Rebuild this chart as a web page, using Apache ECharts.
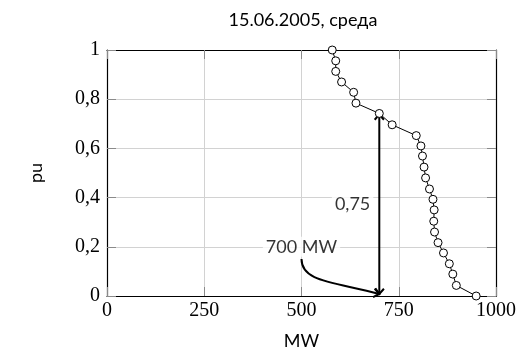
<!DOCTYPE html>
<html>
<head>
<meta charset="utf-8">
<script src="https://cdn.jsdelivr.net/npm/echarts@6/dist/echarts.min.js"></script>
<style>
  html, body { margin: 0; padding: 0; background: #fff; }
  #chart { width: 518px; height: 356px; }
</style>
</head>
<body>
<div id="chart"></div>
<script>
// Load duration curve for one day: generated power (MW) vs. share of the day (pu)
const titleText = '15.06.2005, среда';
const loadMW = [579, 588, 588, 603, 634, 640, 700, 733, 795, 807, 811, 815,
                819, 829, 838, 841, 840, 842, 851, 865, 880, 889, 898, 949];
const loadPU = [1, 0.956, 0.913, 0.87, 0.828, 0.784, 0.742, 0.696, 0.652, 0.61, 0.569, 0.524,
                0.48, 0.435, 0.393, 0.35, 0.304, 0.26, 0.217, 0.175, 0.131, 0.089, 0.043, 0];
const xTicks = [0, 250, 500, 750, 1000];
const yTicks = [0, 0.2, 0.4, 0.6, 0.8, 1];
// highlighted operating point
const markMW = 700;
const markPU = 0.75;

const serif = "'Liberation Serif', 'DejaVu Serif', serif";
const sans = "Lato, 'Open Sans', sans-serif";
const comma = v => String(v).replace('.', ',');

const chart = echarts.init(document.getElementById('chart'), null, { renderer: 'canvas' });

// open "to"-style arrow head as a polyline ending at tip, pointing along dir
function arrowHead(tip, dir) {
  const a = Math.atan2(dir[1], dir[0]);
  const len = 7, spread = 0.72;
  return [
    [tip[0] - len * Math.cos(a - spread), tip[1] - len * Math.sin(a - spread)],
    tip,
    [tip[0] - len * Math.cos(a + spread), tip[1] - len * Math.sin(a + spread)]
  ];
}
const inkStyle = { stroke: '#000', lineWidth: 2, fill: null };

const frameLine = { show: true, onZero: false, lineStyle: { color: '#000', width: 1.2 } };
const innerTick = { show: true, inside: true, length: 9, lineStyle: { color: '#8a8a8a', width: 1 } };
const gridLine = { show: true, lineStyle: { color: '#d2d2d2', width: 1 } };

const xBase = { type: 'value', min: xTicks[0], max: xTicks[xTicks.length - 1], interval: xTicks[1] - xTicks[0] };
const yBase = { type: 'value', min: yTicks[0], max: yTicks[yTicks.length - 1], interval: yTicks[1] - yTicks[0] };

chart.setOption({
  animation: false,
  title: {
    text: titleText,
    left: 303, top: 11, padding: 0, textAlign: 'center',
    textStyle: { fontFamily: sans, fontSize: 18, fontWeight: 'normal', color: '#000' }
  },
  grid: { left: 107, right: 22, top: 50, bottom: 60, containLabel: false, outerBoundsMode: 'none' },
  xAxis: [
    Object.assign({}, xBase, {
      position: 'bottom',
      axisLine: frameLine, axisTick: innerTick, splitLine: gridLine,
      axisLabel: { fontFamily: serif, fontSize: 20, color: '#000', margin: 5, formatter: v => String(v),
                   showMinLabel: true, showMaxLabel: true },
      name: 'MW', nameLocation: 'middle', nameGap: 36,
      nameTextStyle: { fontFamily: sans, fontSize: 18, color: '#000' }
    }),
    Object.assign({}, xBase, {
      position: 'top',
      axisLine: frameLine, axisTick: innerTick, splitLine: { show: false },
      axisLabel: { show: false }
    })
  ],
  yAxis: [
    Object.assign({}, yBase, {
      position: 'left',
      axisLine: frameLine, axisTick: innerTick, splitLine: gridLine,
      axisLabel: { fontFamily: serif, fontSize: 20, color: '#000', margin: 7, formatter: comma,
                   showMinLabel: true, showMaxLabel: true },
      name: 'pu', nameLocation: 'middle', nameGap: 62,
      nameTextStyle: { fontFamily: sans, fontSize: 18, color: '#000' }
    }),
    Object.assign({}, yBase, {
      position: 'right',
      axisLine: frameLine, axisTick: innerTick, splitLine: { show: false },
      axisLabel: { show: false }
    })
  ],
  series: [
    {
      // vertical double arrow from the MW axis up to the curve
      type: 'custom', z: 3, silent: true,
      data: [[markMW, 0, markPU]],
      renderItem: function (params, api) {
        const bottom = api.coord([api.value(0), api.value(1)]);
        const top = api.coord([api.value(0), api.value(2)]);
        bottom[1] -= 2;
        top[1] += 3;
        return {
          type: 'group',
          children: [
            { type: 'line', shape: { x1: bottom[0], y1: bottom[1], x2: top[0], y2: top[1] }, style: inkStyle },
            { type: 'polyline', shape: { points: arrowHead(top, [0, -1]) }, style: inkStyle },
            { type: 'polyline', shape: { points: arrowHead(bottom, [0, 1]) }, style: inkStyle }
          ]
        };
      }
    },
    {
      // curved pointer from the "700 MW" note down to the MW axis
      type: 'custom', z: 3, silent: true,
      data: [[500, 0.15, markMW, 0]],
      renderItem: function (params, api) {
        const p0 = api.coord([api.value(0), api.value(1)]);
        const p3 = api.coord([api.value(2), api.value(3)]);
        p3[1] -= 2;
        const dy = p3[1] - p0[1], dx = p3[0] - p0[0];
        const c1 = [p0[0], p0[1] + 0.65 * dy];
        const c2 = [p0[0] + 0.4 * dx, p0[1] + 0.65 * dy];
        return {
          type: 'group',
          children: [
            { type: 'bezierCurve',
              shape: { x1: p0[0], y1: p0[1], x2: p3[0], y2: p3[1], cpx1: c1[0], cpy1: c1[1], cpx2: c2[0], cpy2: c2[1] },
              style: inkStyle },
            { type: 'polyline', shape: { points: arrowHead(p3, [p3[0] - c2[0], p3[1] - c2[1]]) }, style: inkStyle }
          ]
        };
      }
    },
    {
      // load curve with open circle markers
      type: 'line', z: 5, silent: true,
      data: loadMW.map((x, i) => [x, loadPU[i]]),
      symbol: 'circle', symbolSize: 8, showAllSymbol: true,
      lineStyle: { color: '#000', width: 1 },
      itemStyle: { color: '#fff', borderColor: '#000', borderWidth: 1 }
    },
    {
      // annotations with white backing over the grid
      type: 'scatter', z: 4, silent: true, symbolSize: 0,
      data: [
        { value: [markMW, markPU / 2], label: { position: 'left', distance: 6, formatter: () => comma(markPU) } },
        { value: [500, 0.2], label: { position: 'inside', formatter: () => markMW + ' MW' } }
      ],
      label: {
        show: true, fontFamily: sans, fontSize: 18, color: '#000',
        backgroundColor: '#fff', padding: [1, 3]
      }
    }
  ]
});
</script>
</body>
</html>
